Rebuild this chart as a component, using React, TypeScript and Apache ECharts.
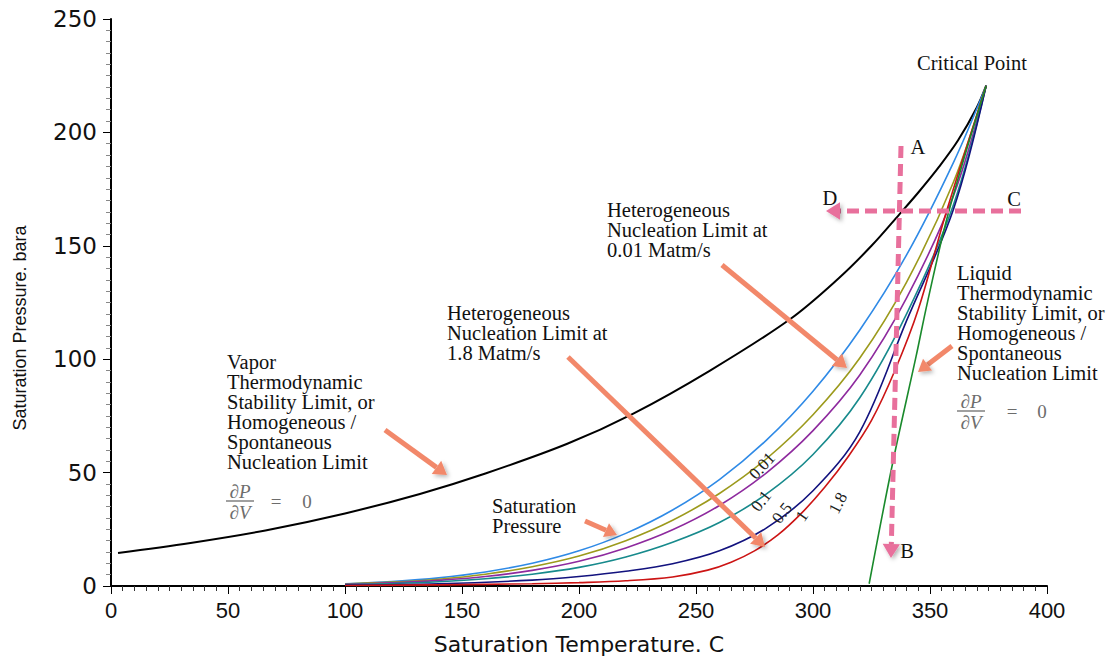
import React, { useEffect, useRef } from "react";
import * as echarts from "echarts";

// ---- data ----
const vaporT = [3, 34, 66, 100, 132, 160, 195, 223, 256, 290, 311, 325, 337, 345, 354, 362, 370, 374];
const vaporP = [14.6, 19.0, 24.5, 32.0, 40.6, 49.6, 62.7, 75.9, 95.0, 117.5, 135.7, 150.0, 164.0, 173.5, 185.0, 196.5, 211.0, 220.6];

const curveT = [100, 120, 140, 160, 180, 200, 220, 240, 260, 280, 300, 320, 340, 360, 374];
const satP = [1.0, 2.0, 3.6, 6.2, 10.0, 15.5, 23.2, 33.5, 46.9, 64.2, 85.9, 112.9, 146.0, 186.7, 220.6];
const het001P = [0.9, 1.7, 3.0, 5.2, 8.5, 13.2, 20.0, 29.0, 40.8, 56.0, 75.5, 100.5, 134, 178, 220.6];
const het01P = [0.8, 1.4, 2.5, 4.2, 6.9, 10.9, 16.8, 24.8, 35.5, 49.8, 68.5, 93.0, 127, 172, 220.6];
const het05P = [0.6, 1.1, 1.9, 3.2, 5.2, 8.2, 12.8, 19.3, 28.0, 40.5, 58.0, 83.0, 120, 168, 220.6];
const het1T = [100, 140, 180, 200, 220, 240, 260, 280, 300, 320, 340, 360, 374];
const het1P = [0.4, 1.0, 2.6, 4.2, 6.5, 9.8, 15.5, 25.5, 42.0, 68.0, 117, 166, 220.6];
const het18T = [100, 140, 180, 200, 220, 240, 255, 265, 275, 285, 295, 305, 315, 325, 335, 345, 357, 374];
const het18P = [0.2, 0.5, 1.0, 1.5, 2.3, 4.0, 7.0, 10.5, 15.5, 22.5, 32.0, 43.5, 57.0, 73.0, 95.0, 122.0, 165.0, 220.6];
const liquidT = [324, 334, 344, 349, 358, 374];
const liquidP = [1, 54, 101, 125.5, 165, 220.6];

const xTickStep = 50;
const yTickStep = 50;

const zip = (xs: number[], ys: number[]) => xs.map((x, i) => [x, ys[i]]);

const SERIF = "'Liberation Serif', 'Times New Roman', serif";
const ORANGE = "#f2886a";
const PINK = "#e8709c";

function arrowEls(x1: number, y1: number, x2: number, y2: number, color: string, w: number, head: number, dash?: number[]) {
  const dx = x2 - x1, dy = y2 - y1;
  const L = Math.hypot(dx, dy);
  const ux = dx / L, uy = dy / L;
  const bx = x2 - ux * head, by = y2 - uy * head;
  const px = -uy, py = ux;
  const hw = head * 0.62;
  const shadow = { shadowBlur: 4, shadowColor: "rgba(0,0,0,0.3)", shadowOffsetX: 2, shadowOffsetY: 2 };
  return [
    {
      type: "line",
      shape: { x1, y1, x2: bx, y2: by },
      style: { stroke: color, lineWidth: w, lineDash: dash || null, lineCap: "butt" },
      z: 100,
    },
    {
      type: "polygon",
      shape: { points: [[x2, y2], [bx + px * hw, by + py * hw], [bx - px * hw, by - py * hw]] },
      style: { fill: color, ...shadow },
      z: 100,
    },
  ];
}

function txt(x: number, y: number, text: string, extra: any = {}) {
  return {
    type: "text",
    x,
    y,
    z: 110,
    style: {
      text,
      fontFamily: SERIF,
      fontSize: 20.5,
      lineHeight: 20,
      fill: "#111",
      textAlign: "left",
      textVerticalAlign: "top",
      ...extra,
    },
  };
}

function formula(cx: number, cy: number, eqX: number, zeroX: number) {
  const grey = "#6c6c6c";
  const f = { fontFamily: SERIF, fontSize: 19, fill: grey, fontStyle: "italic", textAlign: "center", textVerticalAlign: "middle" };
  return [
    { type: "text", x: cx, y: cy - 10, z: 110, style: { text: "∂P", ...f } },
    { type: "line", z: 110, shape: { x1: cx - 14, y1: cy, x2: cx + 14, y2: cy }, style: { stroke: grey, lineWidth: 1.3 } },
    { type: "text", x: cx, y: cy + 11, z: 110, style: { text: "∂V", ...f } },
    { type: "text", x: eqX, y: cy, z: 110, style: { text: "=", ...f, fontStyle: "normal" } },
    { type: "text", x: zeroX, y: cy, z: 110, style: { text: "0", ...f, fontStyle: "normal" } },
  ];
}

function curveLabel(x: number, y: number, text: string, deg: number) {
  return {
    type: "text",
    x,
    y,
    rotation: (deg * Math.PI) / 180,
    z: 110,
    style: { text, fontFamily: SERIF, fontSize: 17, fill: "#222", textAlign: "center", textVerticalAlign: "middle" },
  };
}

export default function App() {
  const ref = useRef<HTMLDivElement>(null);

  useEffect(() => {
    if (!ref.current) return;
    const chart = echarts.init(ref.current, undefined, { renderer: "svg" });

    const lineSeries = (name: string, data: number[][], color: string, width: number) => ({
      name,
      type: "line",
      data,
      showSymbol: false,
      symbol: "none",
      smooth: 0.35,
      lineStyle: { color, width },
      itemStyle: { color },
      z: 5,
    });

    const graphics: any[] = [
      // y axis title
      {
        type: "text",
        x: 20,
        y: 328,
        rotation: Math.PI / 2,
        style: {
          text: "Saturation Pressure. bara",
          fontFamily: "'Liberation Sans', Arial, sans-serif",
          fontSize: 18,
          fill: "#111",
          textAlign: "center",
          textVerticalAlign: "middle",
        },
      },
      // annotation texts
      txt(972, 63, "Critical Point", { textAlign: "center", textVerticalAlign: "middle" }),
      txt(918, 147, "A", { textAlign: "center", textVerticalAlign: "middle" }),
      txt(830, 198, "D", { textAlign: "center", textVerticalAlign: "middle" }),
      txt(1014, 199, "C", { textAlign: "center", textVerticalAlign: "middle" }),
      txt(907, 551, "B", { textAlign: "center", textVerticalAlign: "middle" }),
      txt(227, 352, "Vapor\nThermodynamic\nStability Limit, or\nHomogeneous /\nSpontaneous\nNucleation Limit"),
      txt(957, 263, "Liquid\nThermodynamic\nStability Limit, or\nHomogeneous /\nSpontaneous\nNucleation Limit"),
      txt(607, 200, "Heterogeneous\nNucleation Limit at\n0.01 Matm/s"),
      txt(447, 303, "Heterogeneous\nNucleation Limit at\n1.8 Matm/s"),
      txt(492, 496, "Saturation\nPressure"),
      ...formula(240, 501, 276, 307),
      ...formula(971, 411, 1012, 1042),
      // curve labels
      curveLabel(762, 466, "0.01", 47),
      curveLabel(761, 501, "0.1", 52),
      curveLabel(782, 513, "0.5", 52),
      curveLabel(802, 516, "1", 55),
      curveLabel(838, 503, "1.8", 62),
      // orange arrows
      ...arrowEls(385, 430, 447, 475, ORANGE, 5, 13),
      ...arrowEls(585, 521, 617, 535, ORANGE, 5, 12),
      ...arrowEls(568, 357, 765, 547, ORANGE, 5, 13),
      ...arrowEls(722, 265, 847, 368, ORANGE, 5, 13),
      ...arrowEls(952, 346, 918, 372, ORANGE, 5, 12),
      // pink dashed arrows
      ...arrowEls(901, 146, 891, 558, PINK, 5, 14, [12, 6]),
      ...arrowEls(1021, 211, 826, 211, PINK, 5, 14, [12, 6]),
    ];

    chart.setOption({
      animation: false,
      backgroundColor: "#ffffff",
      grid: { left: 111, right: 71, top: 19, bottom: 70, containLabel: false },
      xAxis: {
        type: "value",
        min: 0,
        max: 400,
        interval: xTickStep,
        name: "Saturation Temperature. C",
        nameLocation: "middle",
        nameGap: 47,
        nameTextStyle: { fontFamily: "'DejaVu Sans', sans-serif", fontSize: 22, color: "#111" },
        axisLine: { show: true, lineStyle: { color: "#000", width: 2 } },
        axisTick: { show: true, length: 8, lineStyle: { color: "#000", width: 1 } },
        minorTick: { show: true, splitNumber: 10, length: 5, lineStyle: { color: "#333", width: 1 } },
        splitLine: { show: false },
        axisLabel: { fontFamily: "'Liberation Sans', Arial, sans-serif", fontSize: 22, color: "#111", margin: 13 },
      },
      yAxis: {
        type: "value",
        min: 0,
        max: 250,
        interval: yTickStep,
        axisLine: { show: true, lineStyle: { color: "#000", width: 2 } },
        axisTick: { show: true, length: 8, lineStyle: { color: "#000", width: 1 } },
        minorTick: { show: true, splitNumber: 10, length: 5, lineStyle: { color: "#888", width: 1 } },
        splitLine: { show: false },
        axisLabel: { fontFamily: "'DejaVu Sans', sans-serif", fontSize: 23, color: "#111", margin: 14 },
      },
      series: [
        lineSeries("Vapor spinodal", zip(vaporT, vaporP), "#000000", 2),
        lineSeries("Saturation", zip(curveT, satP), "#2f8ae6", 1.6),
        lineSeries("0.01", zip(curveT, het001P), "#9c9a1c", 1.6),
        lineSeries("0.1", zip(curveT, het01P), "#8e2a9e", 1.6),
        lineSeries("0.5", zip(curveT, het05P), "#178a8c", 1.6),
        lineSeries("1", zip(het1T, het1P), "#12127e", 1.6),
        lineSeries("1.8", zip(het18T, het18P), "#cc1414", 1.6),
        lineSeries("Liquid spinodal", zip(liquidT, liquidP), "#1a8a2c", 1.6),
      ],
      graphic: graphics,
    });

    return () => chart.dispose();
  }, []);

  return <div ref={ref} style={{ position: "absolute", left: 0, top: 0, width: 1118, height: 660 }} />;
}
